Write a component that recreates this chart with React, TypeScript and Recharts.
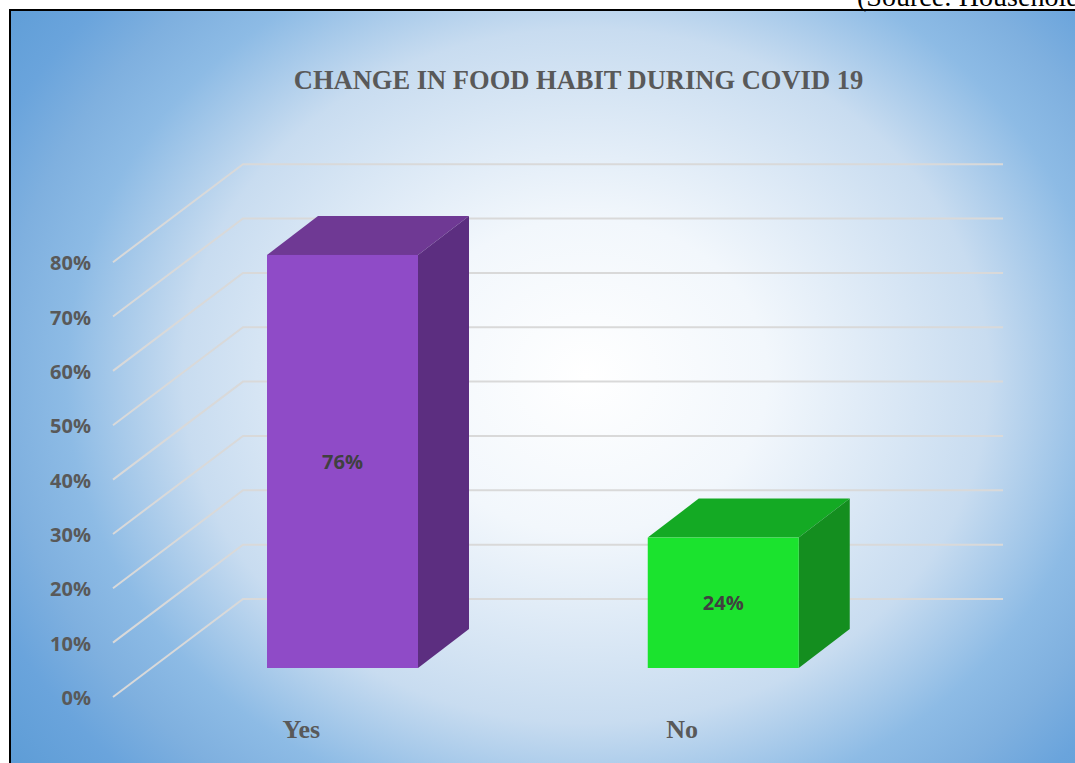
import React from "react";
import {
  BarChart,
  Bar,
  XAxis,
  YAxis,
  CartesianGrid,
  LabelList,
} from "recharts";

const categories = ["Yes", "No"];
const shares = [76, 24];
const yTicks = [0, 10, 20, 30, 40, 50, 60, 70, 80];

const data = categories.map((name, i) => ({ name, value: shares[i] }));

// front / top / side colours for each box
const FACES = [
  { front: "#8f4bc7", top: "#6f3994", side: "#5c2e80" },
  { front: "#1be32e", top: "#14aa24", side: "#148e1f" },
];

const DEPTH_X = 51;
const DEPTH_Y = 39;

const Box3D = (props: any) => {
  const { x, y, width, height, index } = props;
  const f = FACES[index % FACES.length];
  const r = x + width;
  const b = y + height;
  return (
    <g>
      <polygon
        points={`${x},${y} ${x + DEPTH_X},${y - DEPTH_Y} ${r + DEPTH_X},${y - DEPTH_Y} ${r},${y}`}
        fill={f.top}
      />
      <polygon
        points={`${r},${y} ${r + DEPTH_X},${y - DEPTH_Y} ${r + DEPTH_X},${b - DEPTH_Y} ${r},${b}`}
        fill={f.side}
      />
      <rect x={x} y={y} width={width} height={height} fill={f.front} />
    </g>
  );
};

// grid line: front edge on the left wall, back wall, then across
const GridLine = (props: any) => {
  const { x1, y1 } = props;
  const pts = `${x1 - 39},${y1 + 29} ${x1 + 91},${y1 - 69} 1003,${y1 - 69}`;
  return (
    <polyline
      key={props.key ?? `g-${y1}`}
      points={pts}
      fill="none"
      stroke="#d9d9d9"
      strokeWidth={2}
    />
  );
};

const YTick = (props: any) => {
  const { y, payload } = props;
  return (
    <text
      x={91}
      y={y + 29}
      dy={8}
      textAnchor="end"
      fill="#595959"
      fontFamily="'Open Sans', sans-serif"
      fontWeight={700}
      fontSize={20}
    >
      {`${payload.value}%`}
    </text>
  );
};

const XTick = (props: any) => {
  const { x, y, payload } = props;
  return (
    <text
      x={x - 41}
      y={y + 70}
      textAnchor="middle"
      fill="#595959"
      fontFamily="'Liberation Serif', 'Times New Roman', serif"
      fontWeight={700}
      fontSize={26}
    >
      {payload.value}
    </text>
  );
};

export default function App() {
  return (
    <div
      style={{
        position: "absolute",
        left: 0,
        top: 0,
        width: 1075,
        height: 763,
        overflow: "hidden",
        background: "#fff",
      }}
    >
      <div
        style={{
          position: "absolute",
          left: 9,
          top: 9,
          width: 1100,
          height: 800,
          borderLeft: "2px solid #000",
          borderTop: "2px solid #000",
          background:
            "radial-gradient(650px 560px at 575px 365px, #ffffff 0%, #f2f7fc 28%, #c8dcf0 62%, #8dbbe5 80%, #7fb0df 90%, #6aa4dc 100%, #5b9bd5 115%)",
        }}
      />
      <div style={{ position: "absolute", left: 0, top: 0 }}>
        <BarChart
          width={1075}
          height={763}
          data={data}
          margin={{ top: 233.2, right: 161.5, bottom: 0, left: 0 }}
        >
          <CartesianGrid vertical={false} horizontal={GridLine} />
          <XAxis
            dataKey="name"
            height={95}
            axisLine={false}
            tickLine={false}
            tickSize={0}
            tickMargin={0}
            tick={XTick}
          />
          <YAxis
            width={152}
            domain={[0, 80]}
            ticks={yTicks}
            axisLine={false}
            tickLine={false}
            tick={YTick}
          />
          <Bar dataKey="value" barSize={151} shape={Box3D} isAnimationActive={false}>
            <LabelList
              dataKey="value"
              position="center"
              formatter={(v: any) => `${v}%`}
              fill="#404040"
              fontFamily="'Open Sans', sans-serif"
              fontWeight={700}
              fontSize={20}
            />
          </Bar>
        </BarChart>
      </div>
      <svg
        width={1075}
        height={763}
        style={{ position: "absolute", left: 0, top: 0, pointerEvents: "none" }}
      >
        <text
          x={578.5}
          y={89}
          textAnchor="middle"
          fill="#595959"
          fontFamily="'Liberation Serif', 'Times New Roman', serif"
          fontWeight={700}
          fontSize={26.5}
        >
          CHANGE IN FOOD HABIT DURING COVID 19
        </text>
        <text
          x={857}
          y={6}
          fill="#000"
          fontFamily="'Liberation Serif', 'Times New Roman', serif"
          fontSize={28}
        >
          (Source: Household Survey)
        </text>
      </svg>
    </div>
  );
}
